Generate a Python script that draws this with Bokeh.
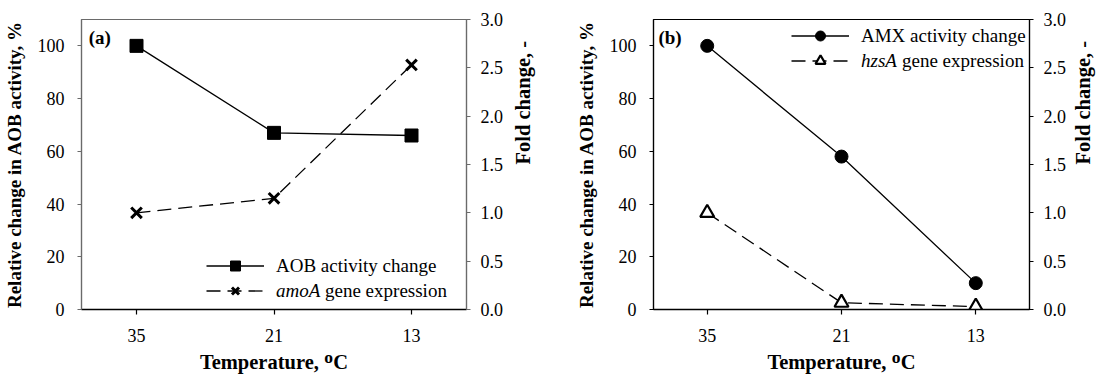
import math
from bokeh.plotting import figure
from bokeh.models import (Range1d, LinearAxis, FixedTicker, PrintfTickFormatter,
                          Legend, LegendItem, Label)
from bokeh.layouts import row
from bokeh.embed import file_html
from bokeh.resources import INLINE

# ---------------- data ----------------
temperatures = ["35", "21", "13"]
aob_activity = [100, 67, 66]          # % (left axis)
amoA_fold = [1.0, 1.15, 2.53]        # fold change (right axis)
amx_activity = [100, 58, 10]          # % (left axis)
hzsA_fold = [1.0, 0.07, 0.03]        # fold change (right axis)
left_ticks = [0, 20, 40, 60, 80, 100]
right_ticks = [0.0, 0.5, 1.0, 1.5, 2.0, 2.5, 3.0]

xpos = list(range(len(temperatures)))
SERIF = "Liberation Serif"


def style_axis(ax, color, tick_out, standoff):
    ax.minor_tick_line_color = None
    ax.major_tick_in = 0
    ax.major_tick_out = tick_out
    ax.axis_line_color = color
    ax.axis_line_width = 1.2
    ax.major_tick_line_color = color
    ax.major_tick_line_width = 1.2
    ax.major_label_text_font = SERIF
    ax.major_label_text_font_size = "18px"
    ax.major_label_text_color = "black"
    ax.major_label_standoff = standoff
    ax.axis_label_text_font = SERIF
    ax.axis_label_text_font_style = "bold"
    ax.axis_label_text_color = "black"


def make_panel(width, bl, br, bt, bb, frame_color, ytitle, right_standoff):
    p = figure(width=width, height=378, output_backend="svg", toolbar_location=None,
               x_range=Range1d(-0.4, 2.4), y_range=Range1d(0, 110),
               min_border_left=bl, min_border_right=br, min_border_top=bt,
               min_border_bottom=bb)
    p.extra_y_ranges = {"fold": Range1d(0, 3.0)}
    p.xgrid.visible = False
    p.ygrid.visible = False
    p.outline_line_color = frame_color
    p.outline_line_width = 1.2

    xa = p.xaxis[0]
    xa.ticker = FixedTicker(ticks=xpos)
    xa.major_label_overrides = {i: t for i, t in zip(xpos, temperatures)}
    xa.axis_label = "Temperature, \u1d3cC"
    style_axis(xa, "black", 5, 14)
    xa.axis_line_width = 1.5
    xa.axis_label_text_font_size = "20.5px"
    xa.axis_label_standoff = 6

    ya = p.yaxis[0]
    ya.ticker = FixedTicker(ticks=left_ticks)
    ya.axis_label = ytitle
    style_axis(ya, frame_color, 4, 13)
    ya.axis_label_text_font_size = "19px"
    ya.axis_label_standoff = 10

    # right axis with the fold-change ticks
    ra = LinearAxis(y_range_name="fold", ticker=FixedTicker(ticks=right_ticks),
                    formatter=PrintfTickFormatter(format="%.1f"))
    style_axis(ra, frame_color, 4, 10)
    p.add_layout(ra, "right")

    # title-only axis so that "Fold change, -" reads bottom to top
    ta = LinearAxis(y_range_name="fold", ticker=FixedTicker(ticks=[]),
                    axis_label="Fold change, -")
    ta.axis_line_color = None
    ta.major_tick_line_color = None
    ta.minor_tick_line_color = None
    ta.major_tick_out = 0
    ta.major_tick_in = 0
    ta.major_label_text_font_size = "0px"
    ta.axis_label_text_font = SERIF
    ta.axis_label_text_font_style = "bold"
    ta.axis_label_text_color = "black"
    ta.axis_label_text_font_size = "20.5px"
    ta.axis_label_standoff = right_standoff
    ta.axis_label_orientation = math.pi / 2
    p.add_layout(ta, "right")
    return p


def add_legend(p, x0, y0, r1, r2, label1, italic2, rest2, italic_w):
    common = dict(border_line_color=None, background_fill_alpha=0, padding=0, spacing=0,
                  glyph_height=25, label_height=25, label_text_font=SERIF,
                  label_text_font_size="19px", label_text_color="black", margin=0)
    p.add_layout(Legend(items=[LegendItem(label=label1, renderers=r1)],
                        location=(x0, y0 + 25), glyph_width=58, label_standoff=12, **common))
    p.add_layout(Legend(items=[LegendItem(label=italic2, renderers=r2)],
                        location=(x0, y0), glyph_width=58, label_standoff=12,
                        label_text_font_style="italic", **common))
    p.add_layout(Legend(items=[LegendItem(label=rest2, renderers=[r2[0]])],
                        location=(x0 + 58 + 12 + italic_w, y0), glyph_width=0,
                        label_standoff=0, **common))


# ---------------- panel (a) ----------------
pa = make_panel(553, 81, 87, 19, 66, "#6a6a6a", "Relative change in AOB activity, %", 16)
a1 = pa.line(xpos, aob_activity, line_color="black", line_width=1.3)
a1m = pa.scatter(xpos, aob_activity, marker="square", size=13, fill_color="black",
                 line_color="black")
a2 = pa.line(xpos, amoA_fold, y_range_name="fold", line_color="black", line_width=1.3,
             line_dash="14 7")
a2m = pa.scatter(xpos, amoA_fold, y_range_name="fold", marker="x", size=15,
                 line_color="black", line_width=3)
add_legend(pa, 125, 6, [a1, a1m], [a2, a2m], "AOB activity change", "amoA",
           "gene expression", 49)
pa.add_layout(Label(x=-0.347, y=107, text="(a)", text_font=SERIF, text_font_size="19px",
                    text_font_style="bold", text_baseline="top", text_color="black"))

# ---------------- panel (b) ----------------
pb = make_panel(554, 100, 71, 16, 69, "black", "Relative change in AOB activity, %", 13)
b1 = pb.line(xpos, amx_activity, line_color="black", line_width=1.3)
b1m = pb.scatter(xpos, amx_activity, marker="circle", size=13, fill_color="black",
                 line_color="black")
b2 = pb.line(xpos, hzsA_fold, y_range_name="fold", line_color="black", line_width=1.3,
             line_dash="14 7")
b2m = pb.scatter(xpos, hzsA_fold, y_range_name="fold", marker="triangle", size=14,
                 fill_color="white", line_color="black", line_width=2.2)
add_legend(pb, 138, 236, [b1, b1m], [b2, b2m], "AMX activity change", "hzsA",
           "gene expression", 41)
pb.add_layout(Label(x=-0.363, y=107, text="(b)", text_font=SERIF, text_font_size="19px",
                    text_font_style="bold", text_baseline="top", text_color="black"))

layout = row(pa, pb)
open("out.html", "w").write(file_html(layout, INLINE))
